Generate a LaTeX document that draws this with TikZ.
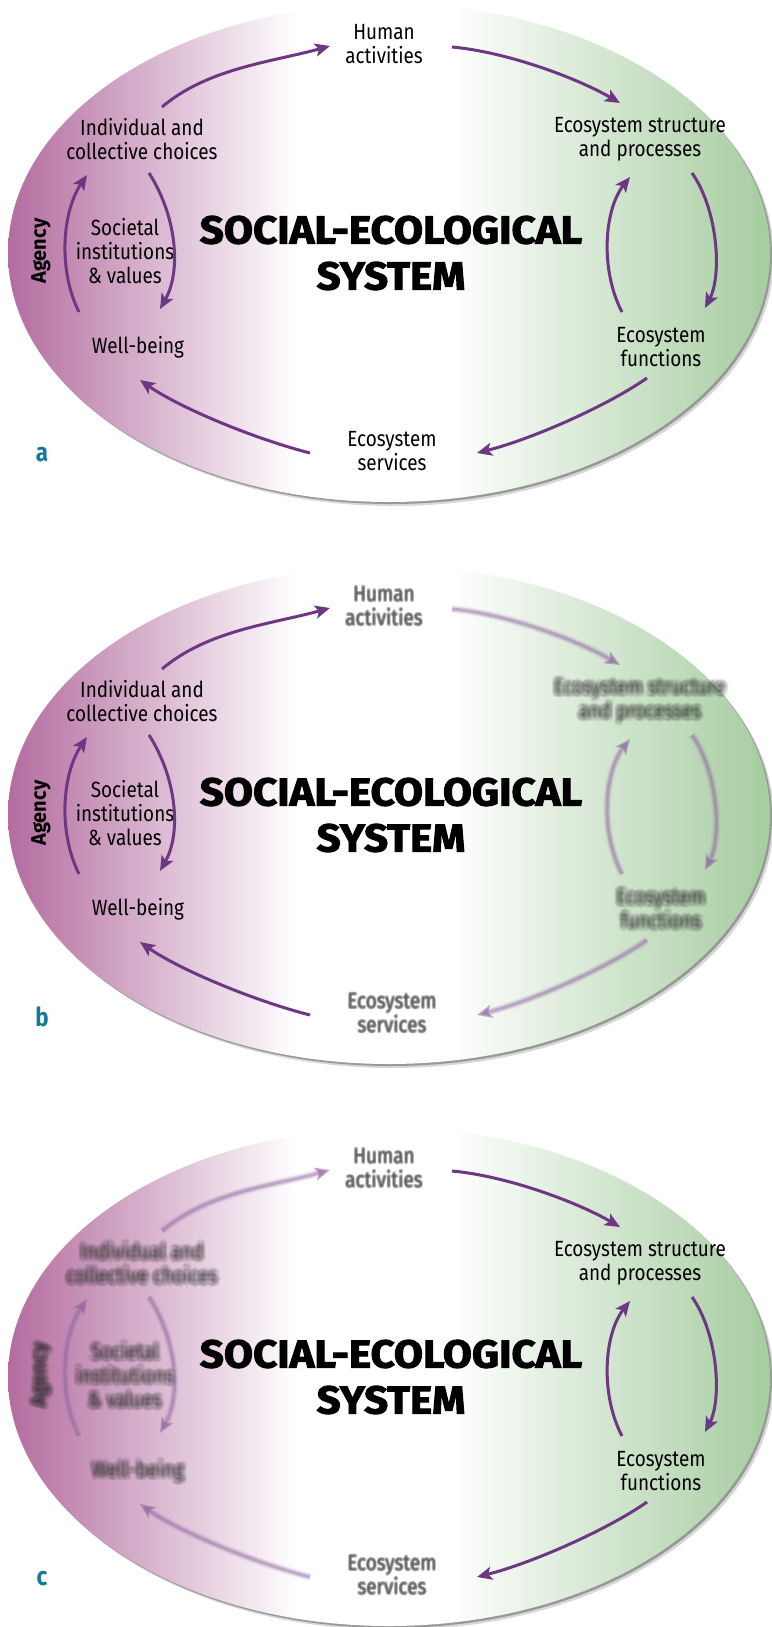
\documentclass[tikz,border=0pt]{standalone}
\usepackage{fontspec}
\setmainfont{Fira Sans}[FakeStretch=0.86]
\newfontfamily\titlefont{Fira Sans}[FakeBold=2.5,FakeStretch=1.08]
\newfontfamily\agencyfont{Fira Sans}[FakeStretch=0.95]
\usetikzlibrary{arrows.meta,calc}
\definecolor{sepurple}{HTML}{B36C9F}
\definecolor{segreen}{HTML}{A6CCA0}
\definecolor{arrowpurple}{HTML}{6E3783}
\definecolor{labelteal}{HTML}{137A9B}
\pgfdeclarehorizontalshading{seshade}{100bp}{color(0bp)=(sepurple); color(25bp)=(sepurple); color(44bp)=(white); color(54bp)=(white); color(75bp)=(segreen); color(100bp)=(segreen)}
\tikzset{
  lbl/.style={font=\fontsize{22}{24}\selectfont, align=center, text=black, inner sep=0pt},
  ttl/.style={font=\titlefont\bfseries\fontsize{39}{46}\selectfont, align=center, inner sep=0pt},
  agencylbl/.style={font=\agencyfont\bfseries\fontsize{21}{22}\selectfont, rotate=90, inner sep=0pt, text=black},
  panellbl/.style={font=\bfseries\fontsize{26}{26}\selectfont, text=labelteal, inner sep=0pt},
  flow/.style={draw=arrowpurple, line width=3pt, -{Stealth[length=15pt,width=13pt,inset=3.5pt]}},
}
% blurred text: #1 level, #2 name, #3 position, #4 style, #5 text
\newcommand\btext[5]{%
  \ifcase#1\relax
    \node[#4] (#2) at (#3) {#5};%
  \or
    \node[#4,opacity=0,text opacity=0] (#2) at (#3) {#5};%
    \foreach \ang in {0,45,...,315}{\node[#4,text=black!75,text opacity=0.2] at ($(#3)+(\ang:1.1)$) {#5};}%
    \node[#4,text=black!70,text opacity=0.3] at (#3) {#5};%
  \else
    \node[#4,opacity=0,text opacity=0] (#2) at (#3) {#5};%
    \foreach \ang in {0,30,...,330}{\node[#4,text=black!80,text opacity=0.08] at ($(#3)+(\ang:3.6)$) {#5};}%
    \foreach \ang in {15,60,...,330}{\node[#4,text=black!80,text opacity=0.1] at ($(#3)+(\ang:2.0)$) {#5};}%
    \node[#4,text=black!80,text opacity=0.1] at (#3) {#5};%
  \fi}
% blurred arrow: #1 level, #2 path
\newcommand\barrow[2]{%
  \ifcase#1\relax
    \draw[flow] #2;%
  \or
    \draw[flow] #2;%
  \else
    \draw[flow, draw=arrowpurple!70, line width=8pt, opacity=0.1] #2;%
    \draw[flow, draw=arrowpurple!75, line width=5.5pt, opacity=0.2] #2;%
    \draw[flow, draw=arrowpurple!80, line width=3pt, opacity=0.35] #2;%
  \fi}
% #1 shift, #2 letter, #3 prefix, #4 left level, #5 middle level, #6 right level
\newcommand\drawpanel[6]{%
\begin{scope}[shift={(0,#1)}, name prefix=#3-]
  \fill[black!45, opacity=0.35] (393,257) ellipse [x radius=381, y radius=249];
  \fill[black!65, opacity=0.5] (391,255) ellipse [x radius=381, y radius=249];
  \shade[shading=seshade] (389,253) ellipse [x radius=381, y radius=249];
  \node[ttl] (title) at (391,253) {SOCIAL-ECOLOGICAL\\SYSTEM};
  \node[panellbl] (letter) at (42,455) {#2};
  % texts
  \btext{#5}{human}{384,44}{lbl}{Human\\activities}
  \btext{#5}{serv}{392,451}{lbl}{Ecosystem\\services}
  \btext{#4}{ind}{142,139}{lbl}{Individual and\\collective choices}
  \btext{#4}{soc}{125,251}{lbl}{Societal\\institutions\\\& values}
  \btext{#4}{agency}{41,251}{agencylbl}{Agency}
  \btext{#4}{well}{138,347}{lbl}{Well-being}
  \btext{#6}{struct}{640,139}{lbl}{Ecosystem structure\\and processes}
  \btext{#6}{func}{661,347}{lbl}{Ecosystem\\functions}
  % connector end points
  \coordinate (a1s) at (162,107); \coordinate (a1e) at (330,46);
  \coordinate (a2s) at (452,47);  \coordinate (a2e) at (620,103);
  \coordinate (a3s) at (692,173); \coordinate (a3e) at (705,308);
  \coordinate (a4s) at (622,312); \coordinate (a4e) at (630,177);
  \coordinate (a5s) at (647,378); \coordinate (a5e) at (477,453);
  \coordinate (a6s) at (310,453); \coordinate (a6e) at (140,380);
  \coordinate (a7s) at (79,312);  \coordinate (a7e) at (87,175);
  \coordinate (a8s) at (149,173); \coordinate (a8e) at (160,309);
  % connectors
  \barrow{#4}{(a1s) .. controls (208,68) and (272,62) .. (a1e)}
  \barrow{#6}{(a2s) .. controls (507,52) and (577,78) .. (a2e)}
  \barrow{#6}{(a3s) .. controls (718,210) and (722,275) .. (a3e)}
  \barrow{#6}{(a4s) .. controls (600,270) and (604,210) .. (a4e)}
  \barrow{#6}{(a5s) .. controls (607,406) and (532,439) .. (a5e)}
  \barrow{#4}{(a6s) .. controls (255,439) and (180,408) .. (a6e)}
  \barrow{#4}{(a7s) .. controls (58,270) and (62,212) .. (a7e)}
  \barrow{#4}{(a8s) .. controls (176,215) and (182,270) .. (a8e)}
\end{scope}}
\begin{document}
\begin{tikzpicture}[x=1pt,y=-1pt]
\useasboundingbox (0,0) rectangle (771,1627);
\drawpanel{0}{a}{pa}{0}{0}{0}
\drawpanel{562}{b}{pb}{0}{1}{2}
\drawpanel{1124}{c}{pc}{2}{1}{0}
\end{tikzpicture}
\end{document}
